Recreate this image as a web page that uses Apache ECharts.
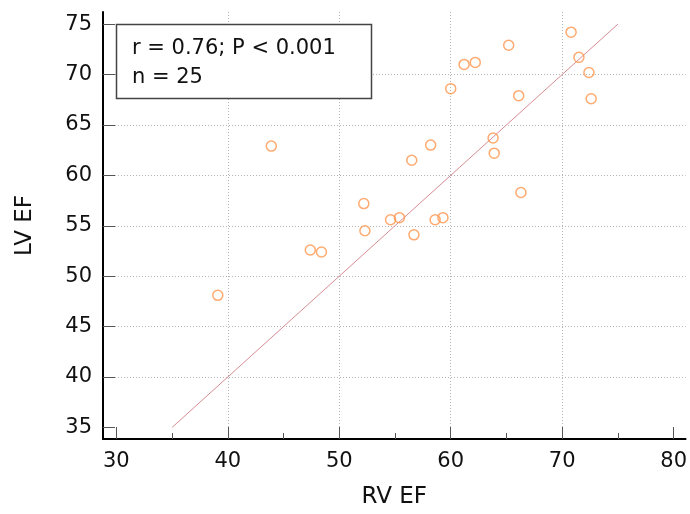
<!DOCTYPE html>
<html lang="en" style="height: 100%">
<head>
  <meta charset="utf-8">
</head>
<body style="height: 100%; margin: 0; background: #fff">
  <div id="container" style="width: 690px; height: 514px"></div>

  <script type="text/javascript" src="https://fastly.jsdelivr.net/npm/echarts@6/dist/echarts.min.js"></script>
  <script type="text/javascript">
    // RV EF vs LV EF, one point per patient
    var rvEF = [39.1, 43.9, 47.4, 48.4, 52.2, 52.3, 54.6, 55.4, 56.7, 56.5,
                58.2, 58.6, 59.3, 60.0, 61.2, 62.2, 63.8, 63.9, 65.2, 66.1,
                66.3, 70.8, 71.5, 72.4, 72.6];
    var lvEF = [48.1, 62.9, 52.6, 52.4, 57.2, 54.5, 55.6, 55.8, 54.1, 61.5,
                63.0, 55.6, 55.8, 68.6, 71.0, 71.2, 63.7, 62.2, 72.9, 67.9,
                58.3, 74.2, 71.7, 70.2, 67.6];
    // line of identity
    var identityLine = [[35, 35], [75, 75]];
    var xTicks = [30, 40, 50, 60, 70, 80];
    var xMinorTicks = [35, 45, 55, 65, 75];
    var yTicks = [35, 40, 45, 50, 55, 60, 65, 70, 75];
    var statLines = ['r = 0.76; P < 0.001', 'n = 25'];

    var points = rvEF.map(function (x, i) { return [x, lvEF[i]]; });

    var font = 'DejaVu Sans, sans-serif';
    var dotted = { show: true, lineStyle: { color: '#b4b4b4', type: [1, 2], width: 1 } };

    var myChart = echarts.init(document.getElementById('container'), null, { renderer: 'canvas' });
    var option = {
      animation: false,
      backgroundColor: '#fff',
      grid: { left: 103, right: 2, top: 12, bottom: 73 },
      xAxis: [
        {
          type: 'value',
          min: 28.8,
          max: 81.07,
          interval: 10,
          name: 'RV EF',
          nameLocation: 'middle',
          nameGap: 47,
          nameTextStyle: { fontFamily: font, fontSize: 23, color: '#111' },
          axisLine: { show: true, onZero: false, lineStyle: { color: '#000', width: 2 } },
          axisTick: { show: true, inside: true, length: 12, customValues: xTicks, lineStyle: { color: '#555' } },
          axisLabel: { customValues: xTicks, margin: 12, fontFamily: font, fontSize: 21, color: '#111' },
          splitLine: Object.assign({ showMinLine: false, showMaxLine: false }, dotted)
        },
        {
          // minor ticks only
          type: 'value',
          position: 'bottom',
          min: 28.8,
          max: 81.07,
          interval: 10,
          axisLine: { show: false, onZero: false },
          axisTick: { show: true, inside: true, length: 6, customValues: xMinorTicks, lineStyle: { color: '#555' } },
          axisLabel: { show: false },
          splitLine: { show: false }
        }
      ],
      yAxis: {
        type: 'value',
        min: 33.85,
        max: 76.2,
        interval: 5,
        name: 'LV EF',
        nameLocation: 'middle',
        nameGap: 66,
        nameTextStyle: { fontFamily: font, fontSize: 23, color: '#111' },
        axisLine: { show: true, onZero: false, lineStyle: { color: '#000', width: 2 } },
        axisTick: { show: true, inside: true, length: 12, customValues: yTicks, lineStyle: { color: '#555' } },
        axisLabel: { customValues: yTicks, margin: 11, fontFamily: font, fontSize: 21, color: '#111' },
        splitLine: Object.assign({ showMinLine: false, showMaxLine: false }, dotted)
      },
      graphic: [
        {
          type: 'rect',
          shape: { x: 116.5, y: 24.5, width: 255, height: 74 },
          style: { fill: '#fff', stroke: '#444', lineWidth: 1.5 },
          z: 100
        },
        {
          type: 'text',
          x: 132,
          y: 34,
          style: {
            text: statLines.join('\n'),
            font: '21px ' + font,
            lineHeight: 29,
            fill: '#111'
          },
          z: 101
        }
      ],
      series: [
        {
          type: 'line',
          data: identityLine,
          symbol: 'none',
          silent: true,
          lineStyle: { color: '#d68c94', width: 1 },
          z: 1
        },
        {
          type: 'scatter',
          data: points,
          symbol: 'circle',
          symbolSize: 10,
          itemStyle: { color: 'transparent', borderColor: '#ff954c', borderWidth: 1.5 },
          z: 2
        }
      ]
    };

    myChart.setOption(option);
    window.addEventListener('resize', myChart.resize);
  </script>
</body>
</html>
